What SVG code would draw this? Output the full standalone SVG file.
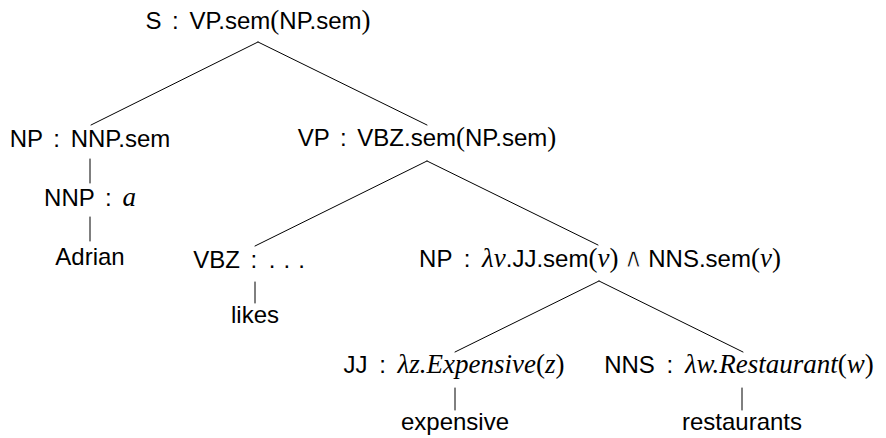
<svg xmlns="http://www.w3.org/2000/svg" width="886" height="438" viewBox="0 0 886 438">
  <style>
    .lbl { font-family: "Liberation Sans", Arial, sans-serif; font-size: 24px; fill: #000; text-anchor: middle; }
    .mi { font-family: "Liberation Serif", "Times New Roman", serif; font-style: italic; font-size: 27px; }
    .mr { font-family: "Liberation Serif", "Times New Roman", serif; font-style: normal; font-size: 27px; }
    /* logical-and sign: a white outline thins the heavy glyph down to a fine stroke */
    .sym { font-family: "DejaVu Sans", sans-serif; font-size: 27px; stroke: #fff; stroke-width: 0.9px; }
    .edge { stroke: #000; stroke-width: 1; fill: none; stroke-linecap: round; }
  </style>
  <rect width="886" height="438" fill="#fff"/>

  <!-- tree edges -->
  <g id="edges">
    <line class="edge" x1="258" y1="42" x2="91" y2="125"/>
    <line class="edge" x1="258" y1="42" x2="427" y2="125"/>
    <line class="edge" x1="90" y1="159" x2="90" y2="183"/>
    <line class="edge" x1="90" y1="217" x2="90" y2="241"/>
    <line class="edge" x1="427" y1="161" x2="255" y2="246"/>
    <line class="edge" x1="427" y1="161" x2="598" y2="245"/>
    <line class="edge" x1="255" y1="282" x2="255" y2="303"/>
    <line class="edge" x1="599" y1="281" x2="455" y2="352"/>
    <line class="edge" x1="599" y1="281" x2="743" y2="352"/>
    <line class="edge" x1="455" y1="388" x2="455" y2="410"/>
    <line class="edge" x1="742" y1="388" x2="742" y2="410"/>
  </g>

  <!-- root: sentence -->
  <g id="node-s">
    <text class="lbl" x="258" y="29">S<tspan dx="4"> :</tspan><tspan dx="4"> VP.sem</tspan><tspan class="mr">(</tspan>NP.sem<tspan class="mr">)</tspan></text>
  </g>

  <!-- subject noun phrase -->
  <g id="node-np-subj">
    <text class="lbl" x="90" y="147">NP<tspan dx="4"> :</tspan><tspan dx="4"> NNP.sem</tspan></text>
  </g>
  <g id="node-nnp">
    <text class="lbl" x="90" y="206">NNP<tspan dx="4"> :</tspan><tspan dx="4" class="mi"> a</tspan></text>
  </g>
  <g id="leaf-adrian">
    <text class="lbl" x="90" y="265">Adrian</text>
  </g>

  <!-- verb phrase -->
  <g id="node-vp">
    <text class="lbl" x="427" y="146">VP<tspan dx="4"> :</tspan><tspan dx="4"> VBZ.sem</tspan><tspan class="mr">(</tspan>NP.sem<tspan class="mr">)</tspan></text>
  </g>
  <g id="node-vbz">
    <text class="lbl" x="249" y="268">VBZ<tspan dx="4"> :</tspan><tspan dx="5"> .</tspan><tspan dx="8">.</tspan><tspan dx="8">.</tspan></text>
  </g>
  <g id="leaf-likes">
    <text class="lbl" x="255" y="323">likes</text>
  </g>

  <!-- object noun phrase -->
  <g id="node-np-obj">
    <text class="lbl" x="600" y="267">NP<tspan dx="5"> :</tspan><tspan dx="5" class="mi"> λv</tspan>.JJ.sem<tspan class="mr">(</tspan><tspan class="mi">v</tspan><tspan class="mr">)</tspan><tspan class="sym" dx="5">∧</tspan><tspan dx="5">NNS.sem</tspan><tspan class="mr">(</tspan><tspan class="mi">v</tspan><tspan class="mr">)</tspan></text>
  </g>

  <!-- adjective -->
  <g id="node-jj">
    <text class="lbl" x="454" y="373">JJ<tspan dx="5"> :</tspan><tspan dx="5" class="mi"> λz.Expensive</tspan><tspan class="mr">(</tspan><tspan class="mi">z</tspan><tspan class="mr">)</tspan></text>
  </g>
  <g id="leaf-expensive">
    <text class="lbl" x="455" y="430">expensive</text>
  </g>

  <!-- plural noun -->
  <g id="node-nns">
    <text class="lbl" x="739" y="373">NNS<tspan dx="5"> :</tspan><tspan dx="5" class="mi"> λw.Restaurant</tspan><tspan class="mr">(</tspan><tspan class="mi">w</tspan><tspan class="mr">)</tspan></text>
  </g>
  <g id="leaf-restaurants">
    <text class="lbl" x="742" y="430">restaurants</text>
  </g>
</svg>
